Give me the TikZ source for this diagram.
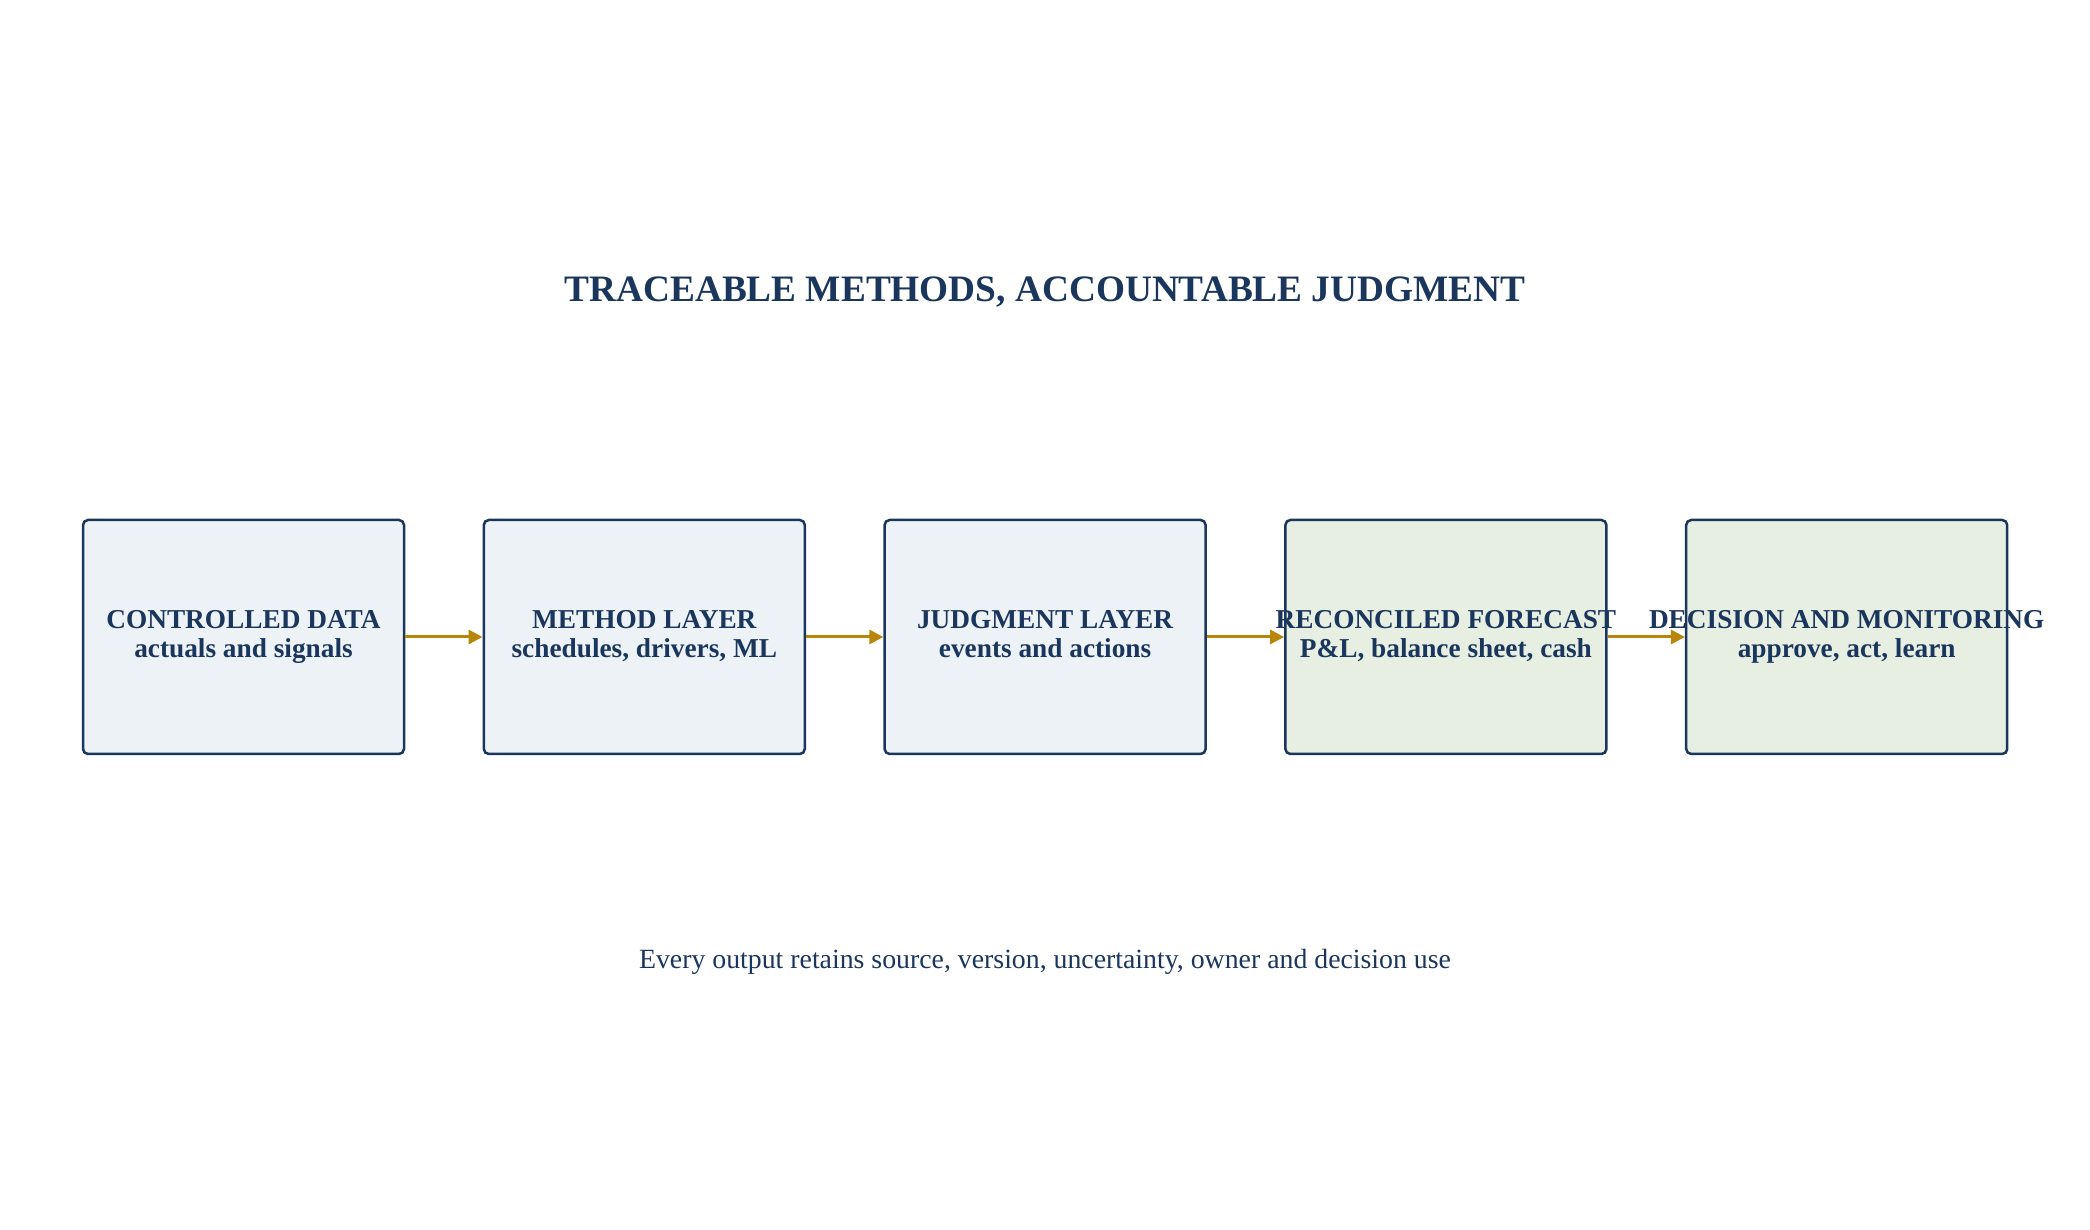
\documentclass[tikz,border=0pt]{standalone}
\usepackage{fontspec}
\setmainfont{Liberation Serif}
\usetikzlibrary{positioning,arrows.meta}
\definecolor{navy}{RGB}{27,54,93}
\definecolor{bluefill}{RGB}{237,242,247}
\definecolor{greenfill}{RGB}{231,239,226}
\definecolor{gold}{RGB}{184,134,11}
\tikzset{stage/.style={draw=navy,line width=2.5pt,rounded corners=5pt,minimum width=321pt,minimum height=234pt},
  txt/.style={text=navy,font=\fontsize{27.3}{29}\selectfont\bfseries,align=center},
  flow/.style={draw=gold,line width=3pt,-{Triangle[length=14pt,width=14pt]}}}
\begin{document}
\begin{tikzpicture}[x=1pt,y=1pt]
\useasboundingbox (0,0) rectangle (2090,1229);
\node[txt,font=\fontsize{37.3}{40}\selectfont\bfseries] (title) at (1045,937) {TRACEABLE METHODS, ACCOUNTABLE JUDGMENT};
% stages
\node[stage,fill=bluefill] (data) at (243.5,592) {};
\node[stage,fill=bluefill,right=77.3pt of data] (method) {};
\node[stage,fill=bluefill,right=77.3pt of method] (judg) {};
\node[stage,fill=greenfill,right=77.3pt of judg] (fcst) {};
\node[stage,fill=greenfill,right=77.3pt of fcst] (dec) {};
\foreach \n/\t in {data/{CONTROLLED DATA\\actuals and signals},
  method/{METHOD LAYER\\schedules, drivers, ML},
  judg/{JUDGMENT LAYER\\events and actions},
  fcst/{RECONCILED FORECAST\\P\&L, balance sheet, cash},
  dec/{DECISION AND MONITORING\\approve, act, learn}}
  \node[txt,anchor=base] (\n-t) at ([yshift=-21pt]\n.center) {\t};
\foreach \a/\b in {data/method,method/judg,judg/fcst,fcst/dec}
  \draw[flow] (\a) -- (\b);
\node[text=navy,font=\fontsize{27.8}{32}\selectfont] (note) at (1045,267) {Every output retains source, version, uncertainty, owner and decision use};
\end{tikzpicture}
\end{document}
